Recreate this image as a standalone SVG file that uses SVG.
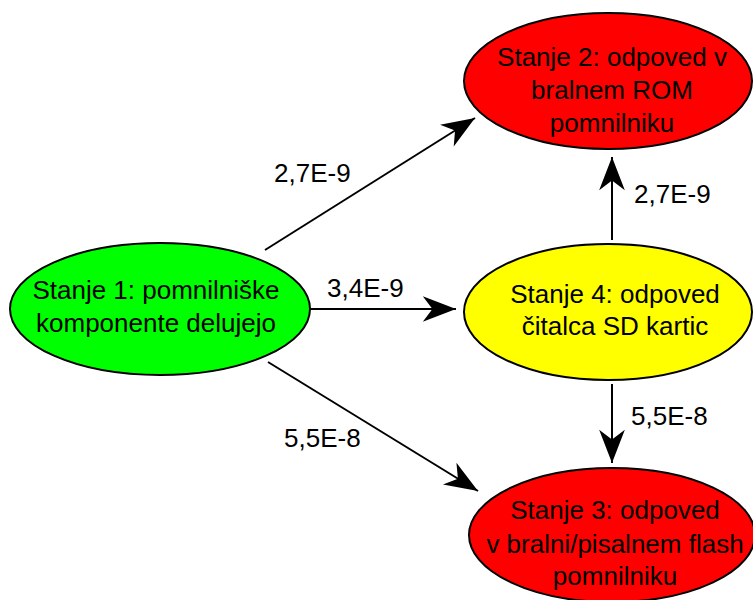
<svg xmlns="http://www.w3.org/2000/svg" width="753" height="600" viewBox="0 0 753 600">
<style>
text{font-family:"Liberation Sans",Arial,sans-serif;font-size:26px;fill:#000}
.n{text-anchor:middle}
ellipse{stroke:#000;stroke-width:2}
.c{stroke:#000;stroke-width:2;fill:none}
</style>
<defs>
<marker id="ah" markerUnits="userSpaceOnUse" markerWidth="40" markerHeight="30" viewBox="-32 -14 34 28" refX="0" refY="0" orient="auto">
<path d="M0,0 L-31,-12 L-22,0 L-31,12 Z" fill="#000"/>
</marker>
</defs>
<rect width="753" height="600" fill="#fff"/>
<g id="connectors">
<line class="c" x1="265" y1="250" x2="475" y2="118" marker-end="url(#ah)"/>
<line class="c" x1="310" y1="309" x2="456" y2="309" marker-end="url(#ah)"/>
<line class="c" x1="268" y1="362" x2="478" y2="491" marker-end="url(#ah)"/>
<line class="c" x1="612" y1="240" x2="612" y2="157" marker-end="url(#ah)"/>
<line class="c" x1="612" y1="384" x2="612" y2="463" marker-end="url(#ah)"/>
<text x="274" y="182">2,7E-9</text>
<text x="327" y="297">3,4E-9</text>
<text x="284" y="447">5,5E-8</text>
<text x="634" y="203">2,7E-9</text>
<text x="631" y="425">5,5E-8</text>
</g>
<g id="s1">
<ellipse cx="160" cy="309" rx="150" ry="66" fill="#00ff00"/>
<text class="n" x="156" y="299">Stanje 1: pomnilniške</text>
<text class="n" x="156" y="332">komponente delujejo</text>
</g>
<g id="s2">
<ellipse cx="608" cy="81" rx="144" ry="68" fill="#ff0000"/>
<text class="n" x="612" y="66">Stanje 2: odpoved v</text>
<text class="n" x="612" y="99">bralnem ROM</text>
<text class="n" x="612" y="132">pomnilniku</text>
</g>
<g id="s4">
<ellipse cx="608" cy="312" rx="144" ry="68" fill="#ffff00"/>
<text class="n" x="615" y="303">Stanje 4: odpoved</text>
<text class="n" x="615" y="335">čitalca SD kartic</text>
</g>
<g id="s3">
<ellipse cx="612" cy="535" rx="143" ry="67" fill="#ff0000"/>
<text class="n" x="615" y="519">Stanje 3: odpoved</text>
<text class="n" x="615" y="553">v bralni/pisalnem flash</text>
<text class="n" x="615" y="585">pomnilniku</text>
</g>
</svg>
